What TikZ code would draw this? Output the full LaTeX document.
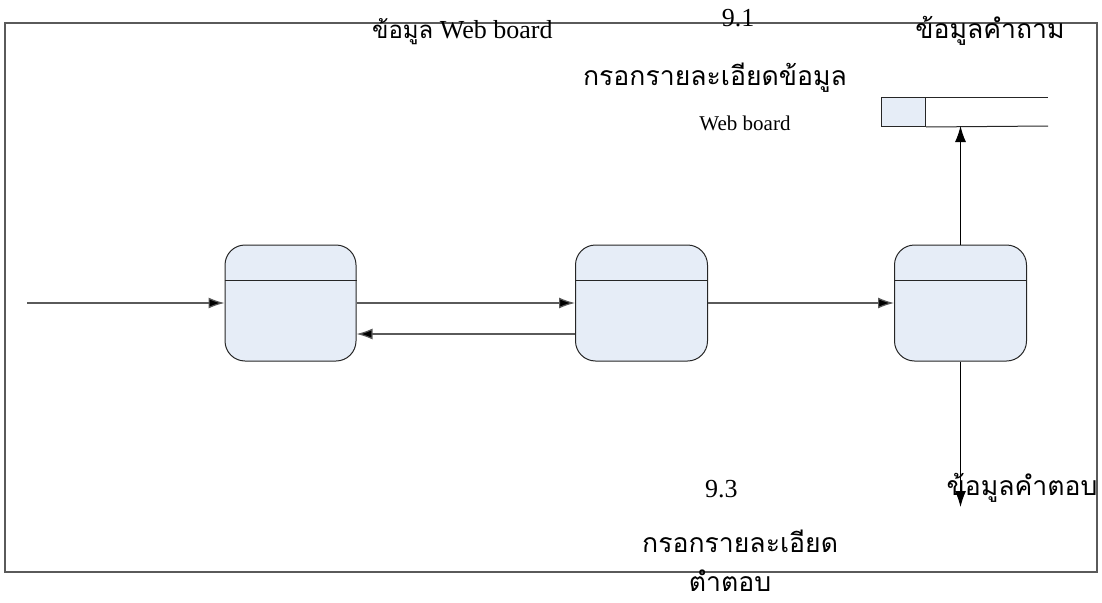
\documentclass[tikz,border=0pt]{standalone}
\usepackage{fontspec}
\setmainfont{Liberation Serif}
\newfontfamily\thaifont[Script=Thai,Scale=1.33]{Loma}
\usetikzlibrary{arrows.meta}
\definecolor{procfill}{HTML}{E6EDF7}
\definecolor{lineg}{HTML}{5A5A5A}
\tikzset{
  proc/.style={draw=black!85, fill=procfill, rounded corners=20pt, line width=1pt},
  flow/.style={draw=lineg, line width=1.2pt, -{Latex[length=16pt,width=11pt,fill=black]}},
  lbl/.style={font=\fontsize{20}{24}\selectfont, inner sep=0pt, anchor=base},
  big/.style={font=\fontsize{26}{30}\selectfont},
}
\begin{document}
\begin{tikzpicture}[x=1pt,y=-1pt]
\useasboundingbox (0,0) rectangle (1102,602);
% frame
\draw[draw=lineg, line width=1.2pt] (5,23) rectangle (1097,572);
% processes
\node[proc, minimum width=131pt, minimum height=116pt, inner sep=0pt] (p1) at (290.5,303) {};
\node[proc, minimum width=132pt, minimum height=116pt, inner sep=0pt] (p2) at (641.5,303) {};
\node[proc, minimum width=132pt, minimum height=116pt, inner sep=0pt] (p3) at (960.5,303) {};
\draw[black!85, line width=1pt] (p1.west |- 0,280) -- (p1.east |- 0,280);
\draw[black!85, line width=1pt] (p2.west |- 0,280) -- (p2.east |- 0,280);
\draw[black!85, line width=1pt] (p3.west |- 0,280) -- (p3.east |- 0,280);
% data store
\node[draw=black!85, fill=procfill, line width=1pt, minimum width=44pt, minimum height=29pt, inner sep=0pt, anchor=north west] (dsid) at (881,97) {};
\draw[black!85, line width=1pt] (dsid.north east) -- (1048,97);
\draw[black!85, line width=1pt] (dsid.south east) -- (1048,126);
\coordinate (dsb) at (960.5,126);
% connectors
\coordinate (src) at (27,303);
\coordinate (sink) at (960.5,507);
\draw[flow] (src) -- (p1.west |- src);
\draw[flow] (p1.east |- 0,303) -- (p2.west |- 0,303);
\draw[flow] (p2.west |- 0,334) -- (p1.east |- 0,334);
\draw[flow] (p2.east |- 0,303) -- (p3.west |- 0,303);
\draw[flow, draw=black, line width=1pt] (p3.north) -- (dsb);
\draw[flow, draw=black, line width=1pt] (p3.south) -- (sink);
% labels
\node[lbl, big, anchor=base west] (t1) at (372,38) {{\fontsize{18}{22}\selectfont\thaifont ข้อมูล} Web board};
\node[lbl, big] (t2) at (738,27) {9.1};
\node[lbl] (t3) at (715,85) {\thaifont กรอกรายละเอียดข้อมูล};
\node[lbl, font=\fontsize{21}{25}\selectfont] (t4) at (745,130) {Web board};
\node[lbl] (t5) at (990,38) {\thaifont ข้อมูลคำถาม};
\node[lbl, big, anchor=base west] (t6) at (705,497) {9.3};
\node[lbl] (t7) at (1022,495) {\thaifont ข้อมูลคำตอบ};
\node[lbl, anchor=base west] (t8) at (642,552) {\thaifont กรอกรายละเอียด};
\node[lbl] (t9) at (730,591) {\thaifont ตำตอบ};
\end{tikzpicture}
\end{document}
